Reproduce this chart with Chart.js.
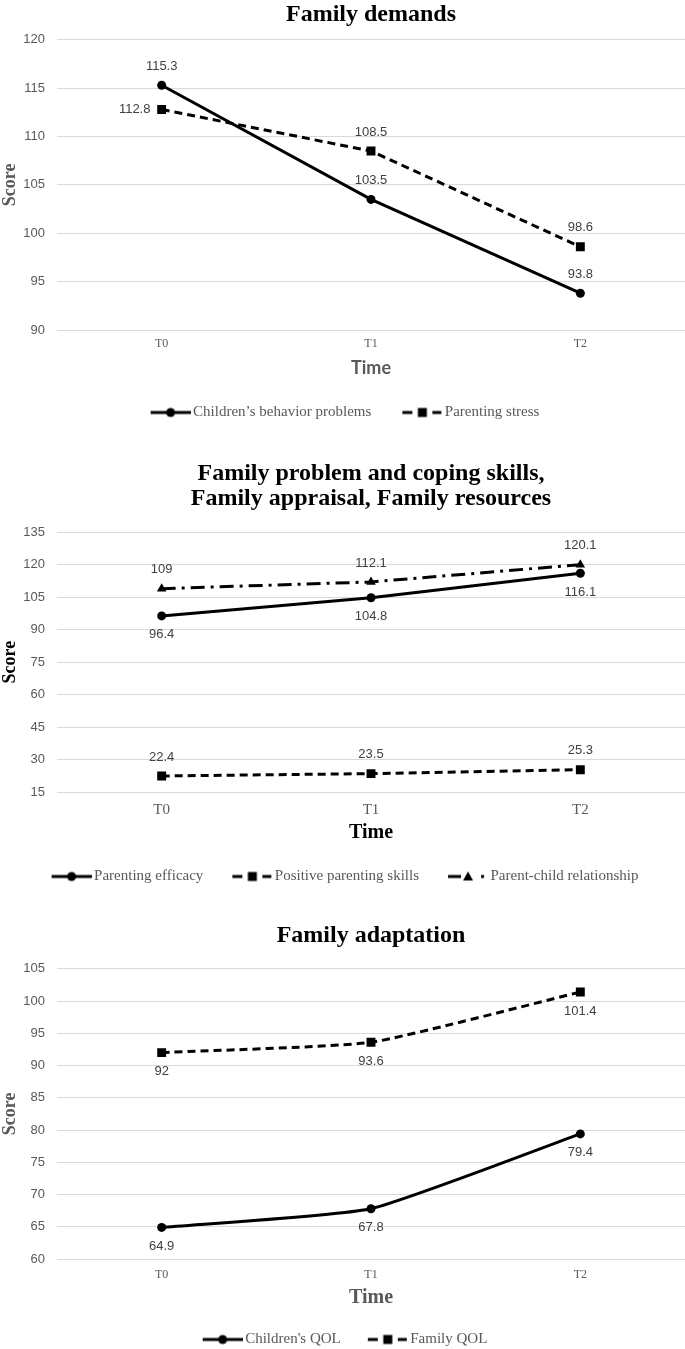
<!DOCTYPE html>
<html>
<head>
<meta charset="utf-8">
<script src="https://cdn.jsdelivr.net/npm/chart.js@4.4.0/dist/chart.umd.min.js"></script>
<style>
  body { margin: 0; background: #fff; width: 685px; height: 1349px; overflow: hidden; }
  .box { position: absolute; left: 0; width: 685px; }
</style>
</head>
<body>
<div class="box" style="top:0;height:430px"><canvas id="myChart1"></canvas></div>
<div class="box" style="top:440px;height:454px"><canvas id="myChart2"></canvas></div>
<div class="box" style="top:900px;height:457px"><canvas id="myChart3"></canvas></div>
<script>
// data
var times = ['T0', 'T1', 'T2'];

var behaviorProblems = [115.3, 103.5, 93.8];
var parentingStress = [112.8, 108.5, 98.6];

var parentingEfficacy = [96.4, 104.8, 116.1];
var positiveSkills = [22.4, 23.5, 25.3];
var parentChild = [109, 112.1, 120.1];

var childrenQol = [64.9, 67.8, 79.4];
var familyQol = [92, 93.6, 101.4];

// y axis: min, max, step
var yTicks1 = [90, 120, 5];
var yTicks2 = [15, 135, 15];
var yTicks3 = [60, 105, 5];

var SERIF = '"Liberation Serif", "Times New Roman", serif';
var NARROW = '"Liberation Sans Narrow", "Liberation Sans", sans-serif';
var GRAY = '#595959';

var SOLID = [];
var DASH = [8, 5];
var DASHDOT = [14, 6, 3, 6];

// little line+marker picture for the legend (wider than the box so the line meets the text)
function legendMark(dash, shape) {
  var c = document.createElement('canvas');
  c.width = 50; c.height = 14;
  var g = c.getContext('2d');
  g.strokeStyle = '#000'; g.fillStyle = '#000';
  g.lineWidth = 3;
  g.beginPath();
  if (dash === SOLID) {
    g.moveTo(10, 7); g.lineTo(50, 7);
  } else if (dash === DASH) {
    g.moveTo(10, 7); g.lineTo(20, 7);
    g.moveTo(40, 7); g.lineTo(49, 7);
  } else {
    g.moveTo(10, 7); g.lineTo(23, 7);
    g.moveTo(43, 7); g.lineTo(46, 7);
  }
  g.stroke();
  if (shape === 'circle') {
    g.beginPath(); g.arc(30, 7, 4.5, 0, Math.PI * 2); g.fill();
  } else if (shape === 'rect') {
    g.fillRect(25.5, 2.5, 9, 9);
  } else {
    g.beginPath(); g.moveTo(30, 2); g.lineTo(35, 11); g.lineTo(25, 11); g.closePath(); g.fill();
  }
  return c;
}

// value labels next to each point
var pointLabels = {
  id: 'pointLabels',
  afterDatasetsDraw: function(chart) {
    var ctx = chart.ctx;
    ctx.save();
    ctx.font = '13px ' + NARROW;
    ctx.fillStyle = '#404040';
    ctx.textAlign = 'center';
    ctx.textBaseline = 'middle';
    chart.data.datasets.forEach(function(ds, i) {
      chart.getDatasetMeta(i).data.forEach(function(pt, j) {
        var where = ds.labelPos[j];
        var x = pt.x, y = pt.y;
        if (where === 'above') y -= 19;
        else if (where === 'below') y += 19;
        else if (where === 'left') x -= 27;
        ctx.fillText(String(ds.data[j]), x, y);
      });
    });
    ctx.restore();
  }
};

function makeSet(label, data, dash, shape, labelPos, tension) {
  return {
    label: label,
    data: data,
    borderColor: '#000',
    backgroundColor: '#000',
    borderWidth: 3,
    borderDash: dash,
    pointStyle: shape,
    pointRadius: shape === 'rect' ? 6.3 : (shape === 'triangle' ? 5.5 : 4.5),
    pointBorderWidth: 0,
    tension: tension || 0,
    labelPos: labelPos,
    legendImg: legendMark(dash, shape)
  };
}

function makeOptions(o) {
  return {
    responsive: true,
    maintainAspectRatio: false,
    animation: false,
    layout: { padding: 0, autoPadding: false },
    plugins: {
      tooltip: { enabled: false },
      title: {
        display: true,
        fullSize: false,
        text: o.title,
        color: '#000',
        font: { family: SERIF, size: 24, weight: 'bold', lineHeight: o.titleLh },
        padding: { top: o.titleTop, bottom: o.titleBottom }
      },
      legend: {
        position: 'bottom',
        labels: {
          usePointStyle: true,
          pointStyleWidth: 40,
          color: GRAY,
          font: { family: SERIF, size: 15 },
          padding: o.legendGap,
          generateLabels: function(chart) {
            return chart.data.datasets.map(function(ds, i) {
              return {
                text: ds.label,
                pointStyle: ds.legendImg,
                fontColor: GRAY,
                lineWidth: 0,
                strokeStyle: 'transparent',
                fillStyle: 'transparent',
                datasetIndex: i
              };
            });
          }
        }
      }
    },
    scales: {
      x: {
        offset: true,
        afterFit: function(scale) { scale.height = o.xHeight; },
        grid: { display: false, drawTicks: false },
        border: { display: false },
        ticks: { color: GRAY, font: { family: SERIF, size: o.xTickSize }, padding: o.xTickPad },
        title: {
          display: true,
          text: 'Time',
          color: o.axisTitleColor,
          font: o.timeFont,
          padding: { top: 0, bottom: 0 }
        }
      },
      y: {
        min: o.yTicks[0],
        max: o.yTicks[1],
        afterFit: function(scale) { scale.width = 57; },
        grid: { color: '#d9d9d9', lineWidth: 1, drawTicks: false },
        border: { display: false },
        ticks: { stepSize: o.yTicks[2], color: GRAY, font: { family: NARROW, size: 13 }, padding: 12 },
        title: {
          display: true,
          text: 'Score',
          color: o.axisTitleColor,
          font: { family: SERIF, size: 18, weight: 'bold' },
          padding: { top: 0, bottom: 0 }
        }
      }
    }
  };
}

var ctx1 = document.getElementById('myChart1');
var ctx2 = document.getElementById('myChart2');
var ctx3 = document.getElementById('myChart3');

var familyDemandsChart = new Chart(ctx1, {
  type: 'line',
  data: {
    labels: times,
    datasets: [
      makeSet('Children\u2019s behavior problems', behaviorProblems, SOLID, 'circle', ['above', 'above', 'above']),
      makeSet('Parenting stress', parentingStress, DASH, 'rect', ['left', 'above', 'above'])
    ]
  },
  options: makeOptions({
    title: 'Family demands', titleLh: 1.2, titleTop: 0, titleBottom: 11,
    legendGap: 26, xHeight: 49,
    xTickSize: 12, xTickPad: 7,
    timeFont: { family: 'Lato, "Open Sans", sans-serif', size: 18, weight: 'bold' },
    axisTitleColor: GRAY, yTicks: yTicks1
  }),
  plugins: [pointLabels]
});

var familyCopingChart = new Chart(ctx2, {
  type: 'line',
  data: {
    labels: times,
    datasets: [
      makeSet('Parenting efficacy', parentingEfficacy, SOLID, 'circle', ['below', 'below', 'below']),
      makeSet('Positive parenting skills', positiveSkills, DASH, 'rect', ['above', 'above', 'above']),
      makeSet('Parent-child relationship', parentChild, DASHDOT, 'triangle', ['above', 'above', 'above'])
    ]
  },
  options: makeOptions({
    title: ['Family problem and coping skills,', 'Family appraisal, Family resources'],
    titleLh: 1.05, titleTop: 21, titleBottom: 21,
    legendGap: 24, xHeight: 53,
    xTickSize: 15, xTickPad: 9,
    timeFont: { family: SERIF, size: 20, weight: 'bold' },
    axisTitleColor: '#000', yTicks: yTicks2
  }),
  plugins: [pointLabels]
});

var familyAdaptationChart = new Chart(ctx3, {
  type: 'line',
  data: {
    labels: times,
    datasets: [
      makeSet('Children\'s QOL', childrenQol, SOLID, 'circle', ['below', 'below', 'below'], 0.15),
      makeSet('Family QOL', familyQol, DASH, 'rect', ['below', 'below', 'below'], 0.15)
    ]
  },
  options: makeOptions({
    title: 'Family adaptation', titleLh: 1.2, titleTop: 21, titleBottom: 19,
    legendGap: 22, xHeight: 51,
    xTickSize: 12, xTickPad: 9,
    timeFont: { family: SERIF, size: 20, weight: 'bold' },
    axisTitleColor: GRAY, yTicks: yTicks3
  }),
  plugins: [pointLabels]
});
</script>
</body>
</html>
